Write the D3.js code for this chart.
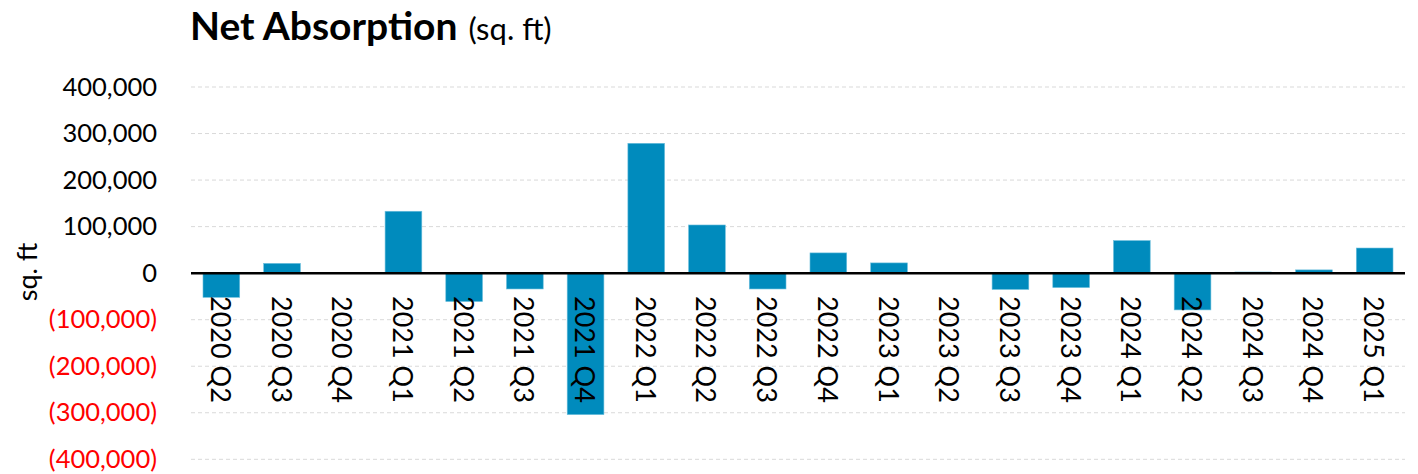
<!DOCTYPE html>
<html>
<head>
<meta charset="utf-8">
<script src="https://cdn.jsdelivr.net/npm/d3@7"></script>
<style>
  html, body { margin: 0; padding: 0; background: #fff; }
  svg { display: block; }
  text { font-family: Lato, "Open Sans", sans-serif; }
</style>
</head>
<body>
<svg id="chart" width="1418" height="474"></svg>
<script>
// Quarterly net absorption (sq. ft)
const quarters = [
  "2020 Q2", "2020 Q3", "2020 Q4", "2021 Q1", "2021 Q2", "2021 Q3", "2021 Q4",
  "2022 Q1", "2022 Q2", "2022 Q3", "2022 Q4", "2023 Q1", "2023 Q2", "2023 Q3",
  "2023 Q4", "2024 Q1", "2024 Q2", "2024 Q3", "2024 Q4", "2025 Q1"
];
const netAbsorption = [
  -52000, 21000, 0, 133000, -61000, -34000, -304000,
  279000, 103500, -34000, 43500, 22000, 0, -35000,
  -31000, 70000, -79000, 2500, 7000, 54000
];
const yTicks = [-400000, -300000, -200000, -100000, 0, 100000, 200000, 300000, 400000];

const svg = d3.select("#chart");
const plotLeft = 191, plotRight = 1405, plotTop = 87, plotBottom = 459.3;

const x = d3.scaleBand().domain(quarters).range([plotLeft, plotRight]).paddingInner(0.395).paddingOuter(0.1975);
const y = d3.scaleLinear().domain([-400000, 400000]).range([plotBottom, plotTop]);

const fmt = d3.format(",");
const label = v => v < 0 ? "(" + fmt(-v) + ")" : fmt(v);

// Dashed gridlines
svg.append("g")
  .selectAll("line")
  .data(yTicks.filter(v => v !== 0))
  .join("line")
  .attr("x1", plotLeft).attr("x2", plotRight)
  .attr("y1", d => y(d)).attr("y2", d => y(d))
  .attr("stroke", "#d9d9d9")
  .attr("stroke-width", 1)
  .attr("stroke-dasharray", "4,3");

// Y axis labels
const yAxis = d3.axisLeft(y).tickValues(yTicks).tickFormat(label).tickSize(0).tickPadding(0);
const gy = svg.append("g").attr("transform", "translate(157,0)").call(yAxis);
gy.select(".domain").remove();
gy.selectAll("text")
  .attr("font-family", "Lato, 'Open Sans', sans-serif")
  .attr("font-size", 25.5)
  .attr("fill", d => d < 0 ? "#ff0000" : "#000");

// Bars
svg.append("g")
  .selectAll("rect")
  .data(quarters.map((q, i) => ({ q, v: netAbsorption[i] })))
  .join("rect")
  .attr("x", d => x(d.q))
  .attr("width", x.bandwidth())
  .attr("y", d => y(Math.max(0, d.v)))
  .attr("height", d => Math.abs(y(d.v) - y(0)))
  .attr("fill", "#008bbd")
  .attr("stroke", "#6dbfdd")
  .attr("stroke-width", 0.6);

// Zero baseline
svg.append("line")
  .attr("x1", plotLeft).attr("x2", plotRight)
  .attr("y1", y(0)).attr("y2", y(0))
  .attr("stroke", "#000")
  .attr("stroke-width", 2.5);

// Category labels, rotated to read downward
svg.append("g")
  .selectAll("text")
  .data(quarters)
  .join("text")
  .attr("transform", d => `translate(${x(d) + x.bandwidth() / 2},296) rotate(90)`)
  .attr("dominant-baseline", "central")
  .attr("font-size", 27)
  .attr("fill", "#000")
  .text(d => d);

// Axis title
svg.append("text")
  .attr("transform", "translate(37,272) rotate(-90)")
  .attr("text-anchor", "middle")
  .attr("font-size", 27)
  .attr("fill", "#000")
  .text("sq. ft");

// Chart title
const title = svg.append("text").attr("x", 190).attr("y", 40).attr("fill", "#000");
title.append("tspan").attr("font-weight", 700).attr("font-size", 39).text("Net Absorption");
title.append("tspan").attr("font-size", 31).attr("dx", 11).text("(sq. ft)");
</script>
</body>
</html>
